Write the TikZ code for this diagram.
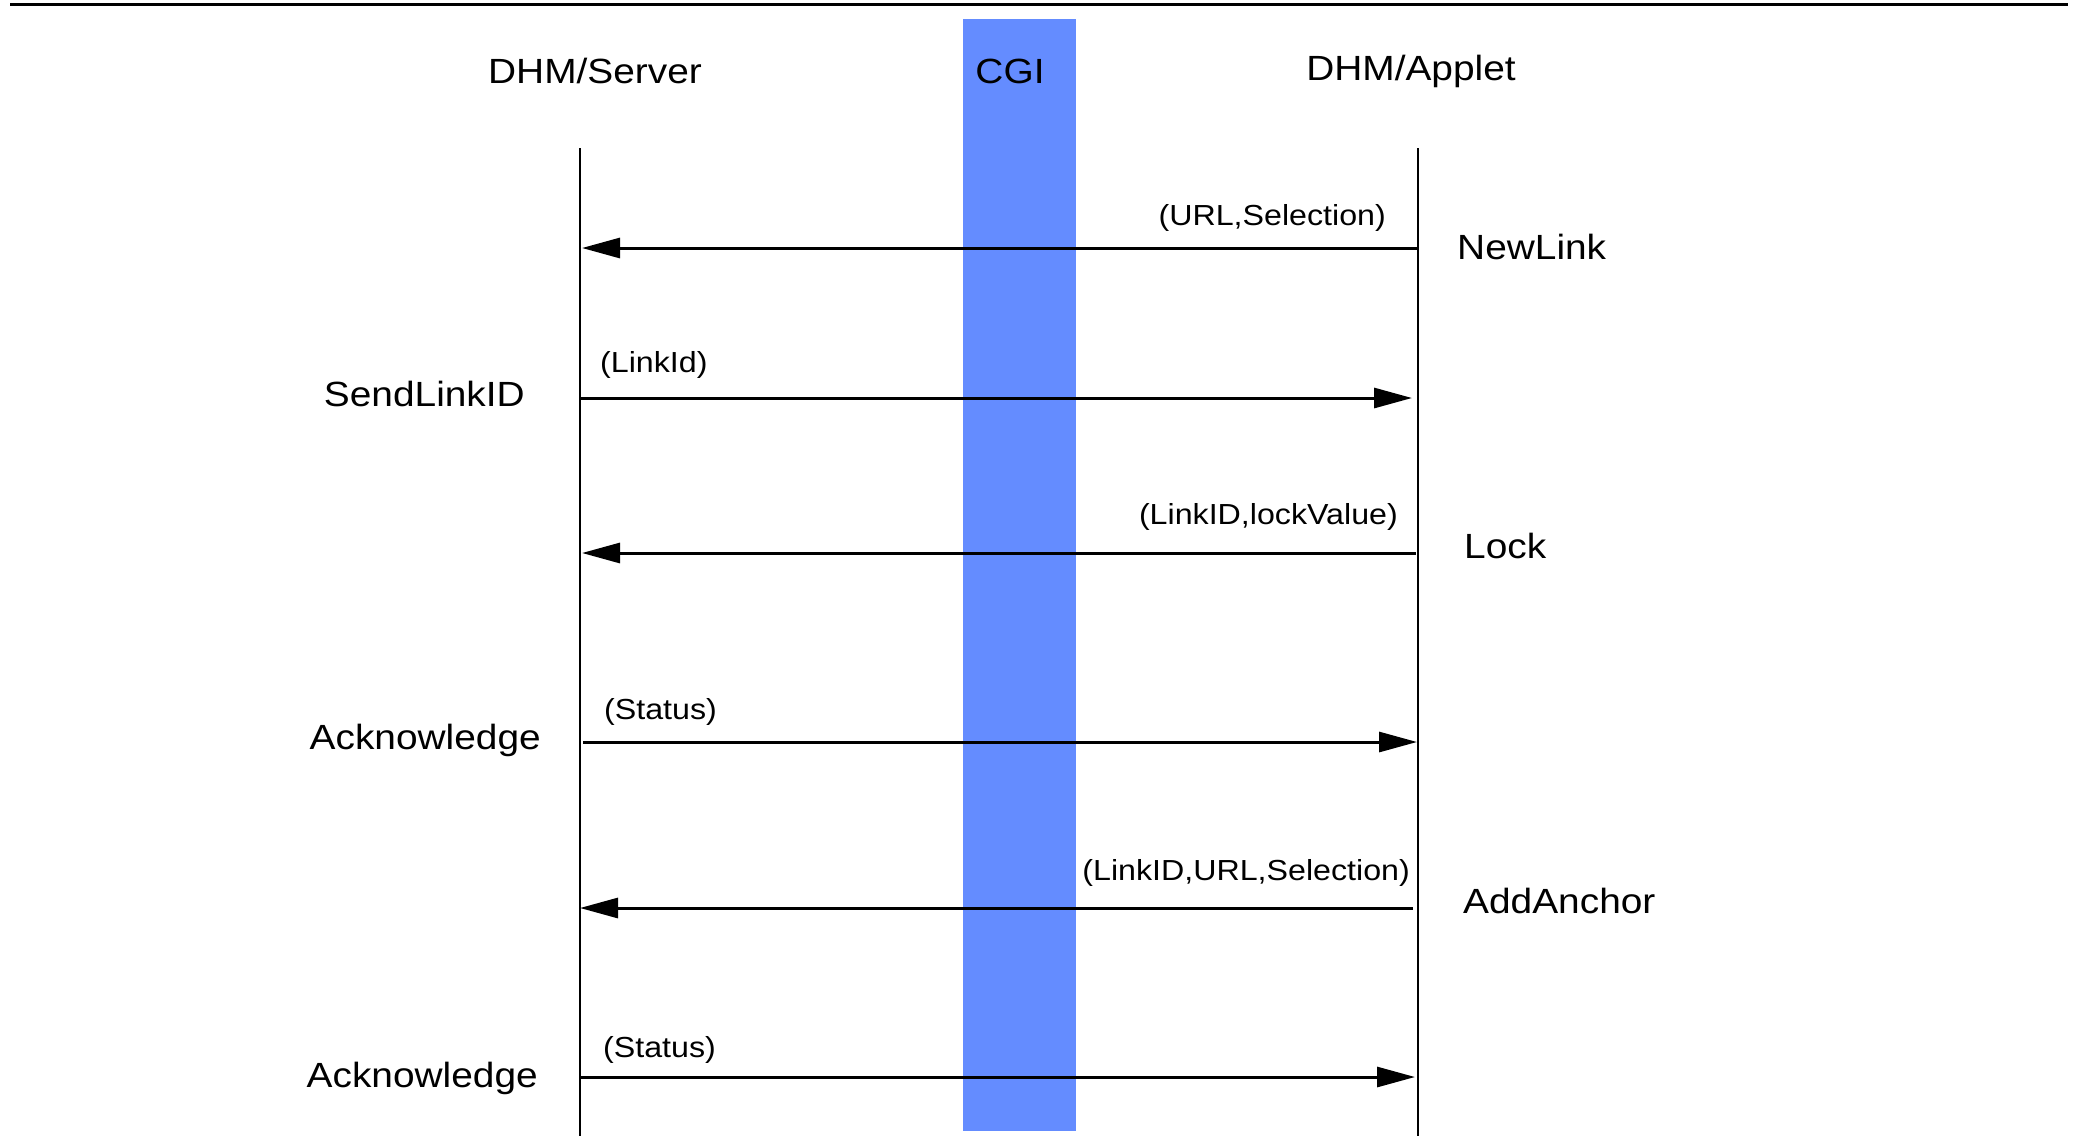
\documentclass[tikz,border=0pt]{standalone}
\usepackage{fontspec}
\setmainfont{Liberation Sans}[FakeStretch=1.11]
\usetikzlibrary{arrows.meta}
\definecolor{cgiblue}{RGB}{100,140,255}
\begin{document}
\begin{tikzpicture}[x=1pt,y=-1pt,
  big/.style={font=\fontsize{35}{40}\selectfont, inner sep=0pt},
  small/.style={font=\fontsize{29}{34}\selectfont, inner sep=0pt},
  msg/.style={line width=3pt, -{Triangle[length=38pt,width=20pt]}},
  life/.style={line width=2.8pt}]
\useasboundingbox (0,0) rectangle (2078,1136);
% top rule
\draw[line width=2.8pt] (10,4.5) -- (2068,4.5);
% CGI band
\fill[cgiblue] (963,19) rectangle (1076,1131);
% headers
\node[big] (srv) at (595,71) {DHM/Server};
\node[big] (cgi) at (1010,71) {CGI};
\node[big] (app) at (1411,71) {DHM/Applet};
% lifelines
\coordinate (st) at (580,148);
\coordinate (sb) at (580,1136);
\coordinate (at) at (1418,148);
\coordinate (ab) at (1418,1136);
\draw[life] (st) -- (sb);
\draw[life] (at) -- (ab);
% arrow end points
\coordinate (a1s) at (1418,248); \coordinate (a1e) at (582,248);
\coordinate (a2s) at (579,398);  \coordinate (a2e) at (1412,398);
\coordinate (a3s) at (1416,553); \coordinate (a3e) at (582,553);
\coordinate (a4s) at (583,742);  \coordinate (a4e) at (1417,742);
\coordinate (a5s) at (1413,908); \coordinate (a5e) at (580,908);
\coordinate (a6s) at (580,1077); \coordinate (a6e) at (1415,1077);
\draw[msg] (a1s) -- (a1e);
\draw[msg] (a2s) -- (a2e);
\draw[msg] (a3s) -- (a3e);
\draw[msg] (a4s) -- (a4e);
\draw[msg] (a5s) -- (a5e);
\draw[msg] (a6s) -- (a6e);
% message labels
\node[small, anchor=east] (l1) at (1386,218) {(URL,Selection)};
\node[small, anchor=west] (l2) at (600,365) {(LinkId)};
\node[small, anchor=east] (l3) at (1398,517) {(LinkID,lockValue)};
\node[small, anchor=west] (l4) at (604,712) {(Status)};
\node[small, anchor=east] (l5) at (1410,873) {(LinkID,URL,Selection)};
\node[small, anchor=west] (l6) at (603,1050) {(Status)};
% operation names
\node[big, anchor=west] (n1) at (1457,247) {NewLink};
\node[big, anchor=east] (n2) at (525,394) {SendLinkID};
\node[big, anchor=west] (n3) at (1464,546) {Lock};
\node[big, anchor=east] (n4) at (541,740) {Acknowledge};
\node[big, anchor=west] (n5) at (1463,901) {AddAnchor};
\node[big, anchor=east] (n6) at (538,1078) {Acknowledge};
\end{tikzpicture}
\end{document}
